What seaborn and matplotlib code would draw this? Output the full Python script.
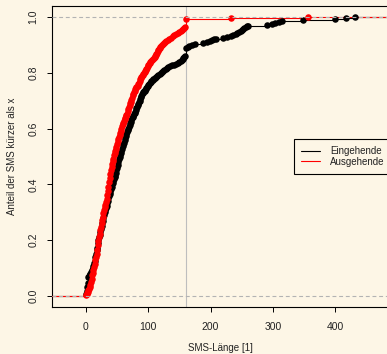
import numpy as np
import matplotlib
matplotlib.use("Agg")
import matplotlib.pyplot as plt
import seaborn as sns

# ---- data: SMS lengths (characters) ----
eingehende = [
    0, 0, 1, 1, 1, 2, 2, 2, 2, 3, 3, 3, 3, 3, 4, 4, 4, 4, 4, 4,
    5, 6, 6, 7, 8, 8, 9, 10, 11, 11,
    12, 12, 13, 13, 13, 14, 14, 14, 15, 15, 15, 15, 16, 16, 16, 17, 17, 17, 17,
    18, 18, 18, 19, 19, 19, 19, 19,
    20, 20, 20, 21, 21, 21, 22, 22, 22, 23, 23, 23, 24, 24, 24, 25, 25, 25,
    26, 26, 26, 27, 27, 27,
    28, 28, 28, 29, 29, 29, 30, 30, 30, 31, 31, 32, 32, 32, 33, 33, 34, 34, 34, 35, 35,
    36, 36, 36, 37, 37, 38, 38, 38, 39, 39, 40, 40, 40, 41, 41, 42, 42, 42, 43, 43,
    44, 44, 45, 45, 46, 46, 47,
    48, 48, 48, 49, 49, 49, 50, 50, 50, 51, 51, 51, 52, 52, 52, 53, 53, 53, 54, 54, 54,
    55, 55, 56, 56, 57, 57,
    58, 58, 59, 59, 59, 60, 60, 61, 61, 62, 62, 62, 63, 63, 64, 64, 65, 65, 66, 66,
    67, 67, 68, 68,
    69, 69, 70, 70, 71, 71, 72, 73, 73, 74, 74, 75, 76, 76, 77, 77, 78, 79,
    80, 80, 81, 81, 82, 83, 83, 84, 84, 85, 85, 86, 87, 87, 88, 88, 89, 90, 90, 91, 92,
    93, 94, 95, 96, 97, 98, 99, 100, 101, 103, 104, 105, 107, 108, 110, 111, 113, 114,
    116, 118, 120, 122, 124, 126, 128, 130, 132,
    135, 138, 141, 144, 147, 150, 152, 154,
    155, 156, 157, 159,
    160, 160, 160, 160, 160, 160, 160, 160, 160,
    163, 166, 170, 175, 188, 195, 199, 203, 205, 208, 220, 226,
    232, 236, 240, 243, 246, 248, 250, 252, 254, 256, 258, 260,
    290, 298, 304, 310, 314, 349, 400, 418, 431,
]

ausgehende = [
    0, 1, 2, 3, 4, 5, 6, 6,
    7, 7, 8, 8, 8, 9, 9, 9, 10, 10, 10, 11, 11,
    12, 12, 12, 13, 13, 13, 14, 14, 14, 15, 15, 15, 16, 16, 16, 17, 17, 17,
    18, 18, 18, 18, 19, 19, 19, 19, 20, 20, 20, 20, 21, 21, 21, 21, 22, 22, 22,
    23, 23, 23, 24, 24, 24, 25, 25, 25, 25, 26, 26, 26, 27, 27, 27,
    28, 28, 28, 29, 29, 29, 30, 30, 30, 31, 31, 32, 32, 32, 33, 33,
    34, 34, 34, 34, 35, 35, 35, 35, 36, 36, 36, 36, 37, 37, 37, 37,
    38, 38, 38, 38, 39, 39, 39, 39,
    40, 40, 40, 41, 41, 41, 42, 42, 42, 43, 43, 43, 44, 44, 45, 45, 45, 46, 46, 47, 47,
    48, 48, 49, 49, 50, 50, 50, 51, 51, 52, 52, 53, 53, 54, 54, 55, 55,
    56, 56, 57, 57, 58, 58, 59, 59, 60, 61, 61, 62, 62, 63, 64, 64, 65, 66,
    67, 67, 68, 68, 69, 69, 70, 70, 71, 71, 72, 73, 73, 74, 74, 75, 75, 76, 77, 77,
    78, 79, 79, 80, 81,
    83, 84, 84, 85, 86, 87, 87, 88, 89, 90, 91, 92, 93, 94, 95, 96, 97, 98, 99, 100,
    101, 102, 103, 104, 106,
    108, 109, 110, 111, 112, 113, 114, 115, 116, 117, 118, 119, 120, 122, 123, 125,
    127, 129, 131, 134, 137, 140, 142, 145, 147, 149,
    152, 154, 156, 158, 159,
    160, 160, 160, 160, 160, 160, 160,
    233, 356,
]

series_labels = ["Eingehende", "Ausgehende"]
series_colors = ["black", "red"]
x_ticks = [0, 100, 200, 300, 400]
y_ticks = [0.0, 0.2, 0.4, 0.6, 0.8, 1.0]
y_ticklabels = ["0.0", "0.2", "0.4", "0.6", "0.8", "1.0"]
x_label = "SMS-Länge [1]"
y_label = "Anteil der SMS kürzer als x"
sms_limit = 160

bg = "#FDF6E6"
sns.set_theme(style="white")
plt.rcParams["font.family"] = ["Liberation Sans", "DejaVu Sans"]
plt.rcParams["axes.unicode_minus"] = False

W, H = 387, 354
fig = plt.figure(figsize=(W / 100, H / 100), dpi=100, facecolor=bg)

# x-limits like R's plot.ecdf of the first series (+4% axis extension)
kn0 = np.unique(eingehende)
dr0 = max(0.08 * (kn0.max() - kn0.min()), np.median(np.diff(kn0)))
xl = (kn0.min() - dr0, kn0.max() + dr0)
span = xl[1] - xl[0]
xlim = (xl[0] - 0.04 * span, xl[1] + 0.04 * span)
ylim = (-0.04, 1.04)

ax_left, ax_top, ax_bottom = 52, 6, 307
px_per_unit = 0.6233
ax_w = (xlim[1] - xlim[0]) * px_per_unit
ax = fig.add_axes([ax_left / W, (H - ax_bottom) / H, ax_w / W, (ax_bottom - ax_top) / H])
ax.set_facecolor(bg)

ax.axvline(sms_limit, color="#BEBEBE", lw=0.8, zorder=1)

for vals, col, lab in zip([eingehende, ausgehende], series_colors, series_labels):
    vals = np.asarray(vals)
    sns.ecdfplot(x=vals, ax=ax, color=col, lw=0.8, label=lab, zorder=3)
    kn, cnt = np.unique(vals, return_counts=True)
    F = np.cumsum(cnt) / len(vals)
    ax.hlines(0, xlim[0] - 50, kn.min(), color=col, lw=0.8, zorder=3)
    ax.hlines(1, kn.max(), xlim[1] + 50, color=col, lw=0.8, zorder=3)
    sns.scatterplot(x=kn, y=F, ax=ax, color=col, s=22, linewidth=0,
                    zorder=4, legend=False)

for yy in (0, 1):
    ax.axhline(yy, color="#B3B3B3", lw=0.8, ls=(0, (3.5, 2.5)), zorder=5)

ax.set_xlim(xlim)
ax.set_ylim(ylim)
ax.set_xticks(x_ticks)
ax.set_xticklabels([str(t) for t in x_ticks])
ax.set_yticks(y_ticks)
ax.set_yticklabels(y_ticklabels, rotation=90, va="center")

for s in ax.spines.values():
    s.set_visible(True)
    s.set_color("black")
    s.set_linewidth(0.8)

ax.tick_params(axis="both", direction="out", length=3.6, width=0.7,
               colors="black", labelsize=7.5, labelcolor="#222222",
               bottom=True, left=True, top=False, right=False)
ax.tick_params(axis="x", pad=7)
ax.tick_params(axis="y", pad=6)

ax.set_xlabel(x_label, fontsize=7, color="#222222")
ax.set_ylabel(y_label, fontsize=7, color="#222222")
ax.xaxis.set_label_coords(0.5, -(348 - ax_bottom) / (ax_bottom - ax_top))
ax.xaxis.label.set_va("center")
ax.yaxis.set_label_coords(-(ax_left - 12) / ax_w, 0.5)
ax.yaxis.label.set_va("center")

leg = ax.legend(loc="center left", bbox_to_anchor=((294 - ax_left) / ax_w, 0.5),
                fontsize=7, frameon=True, fancybox=False, framealpha=1,
                facecolor=bg, edgecolor="black", borderaxespad=0,
                handlelength=2.0, handletextpad=1.0, labelspacing=0.05,
                borderpad=0.7)
leg.get_frame().set_linewidth(0.8)
for t in leg.get_texts():
    t.set_color("#222222")

fig.savefig("out.png", dpi=100, facecolor=bg)
